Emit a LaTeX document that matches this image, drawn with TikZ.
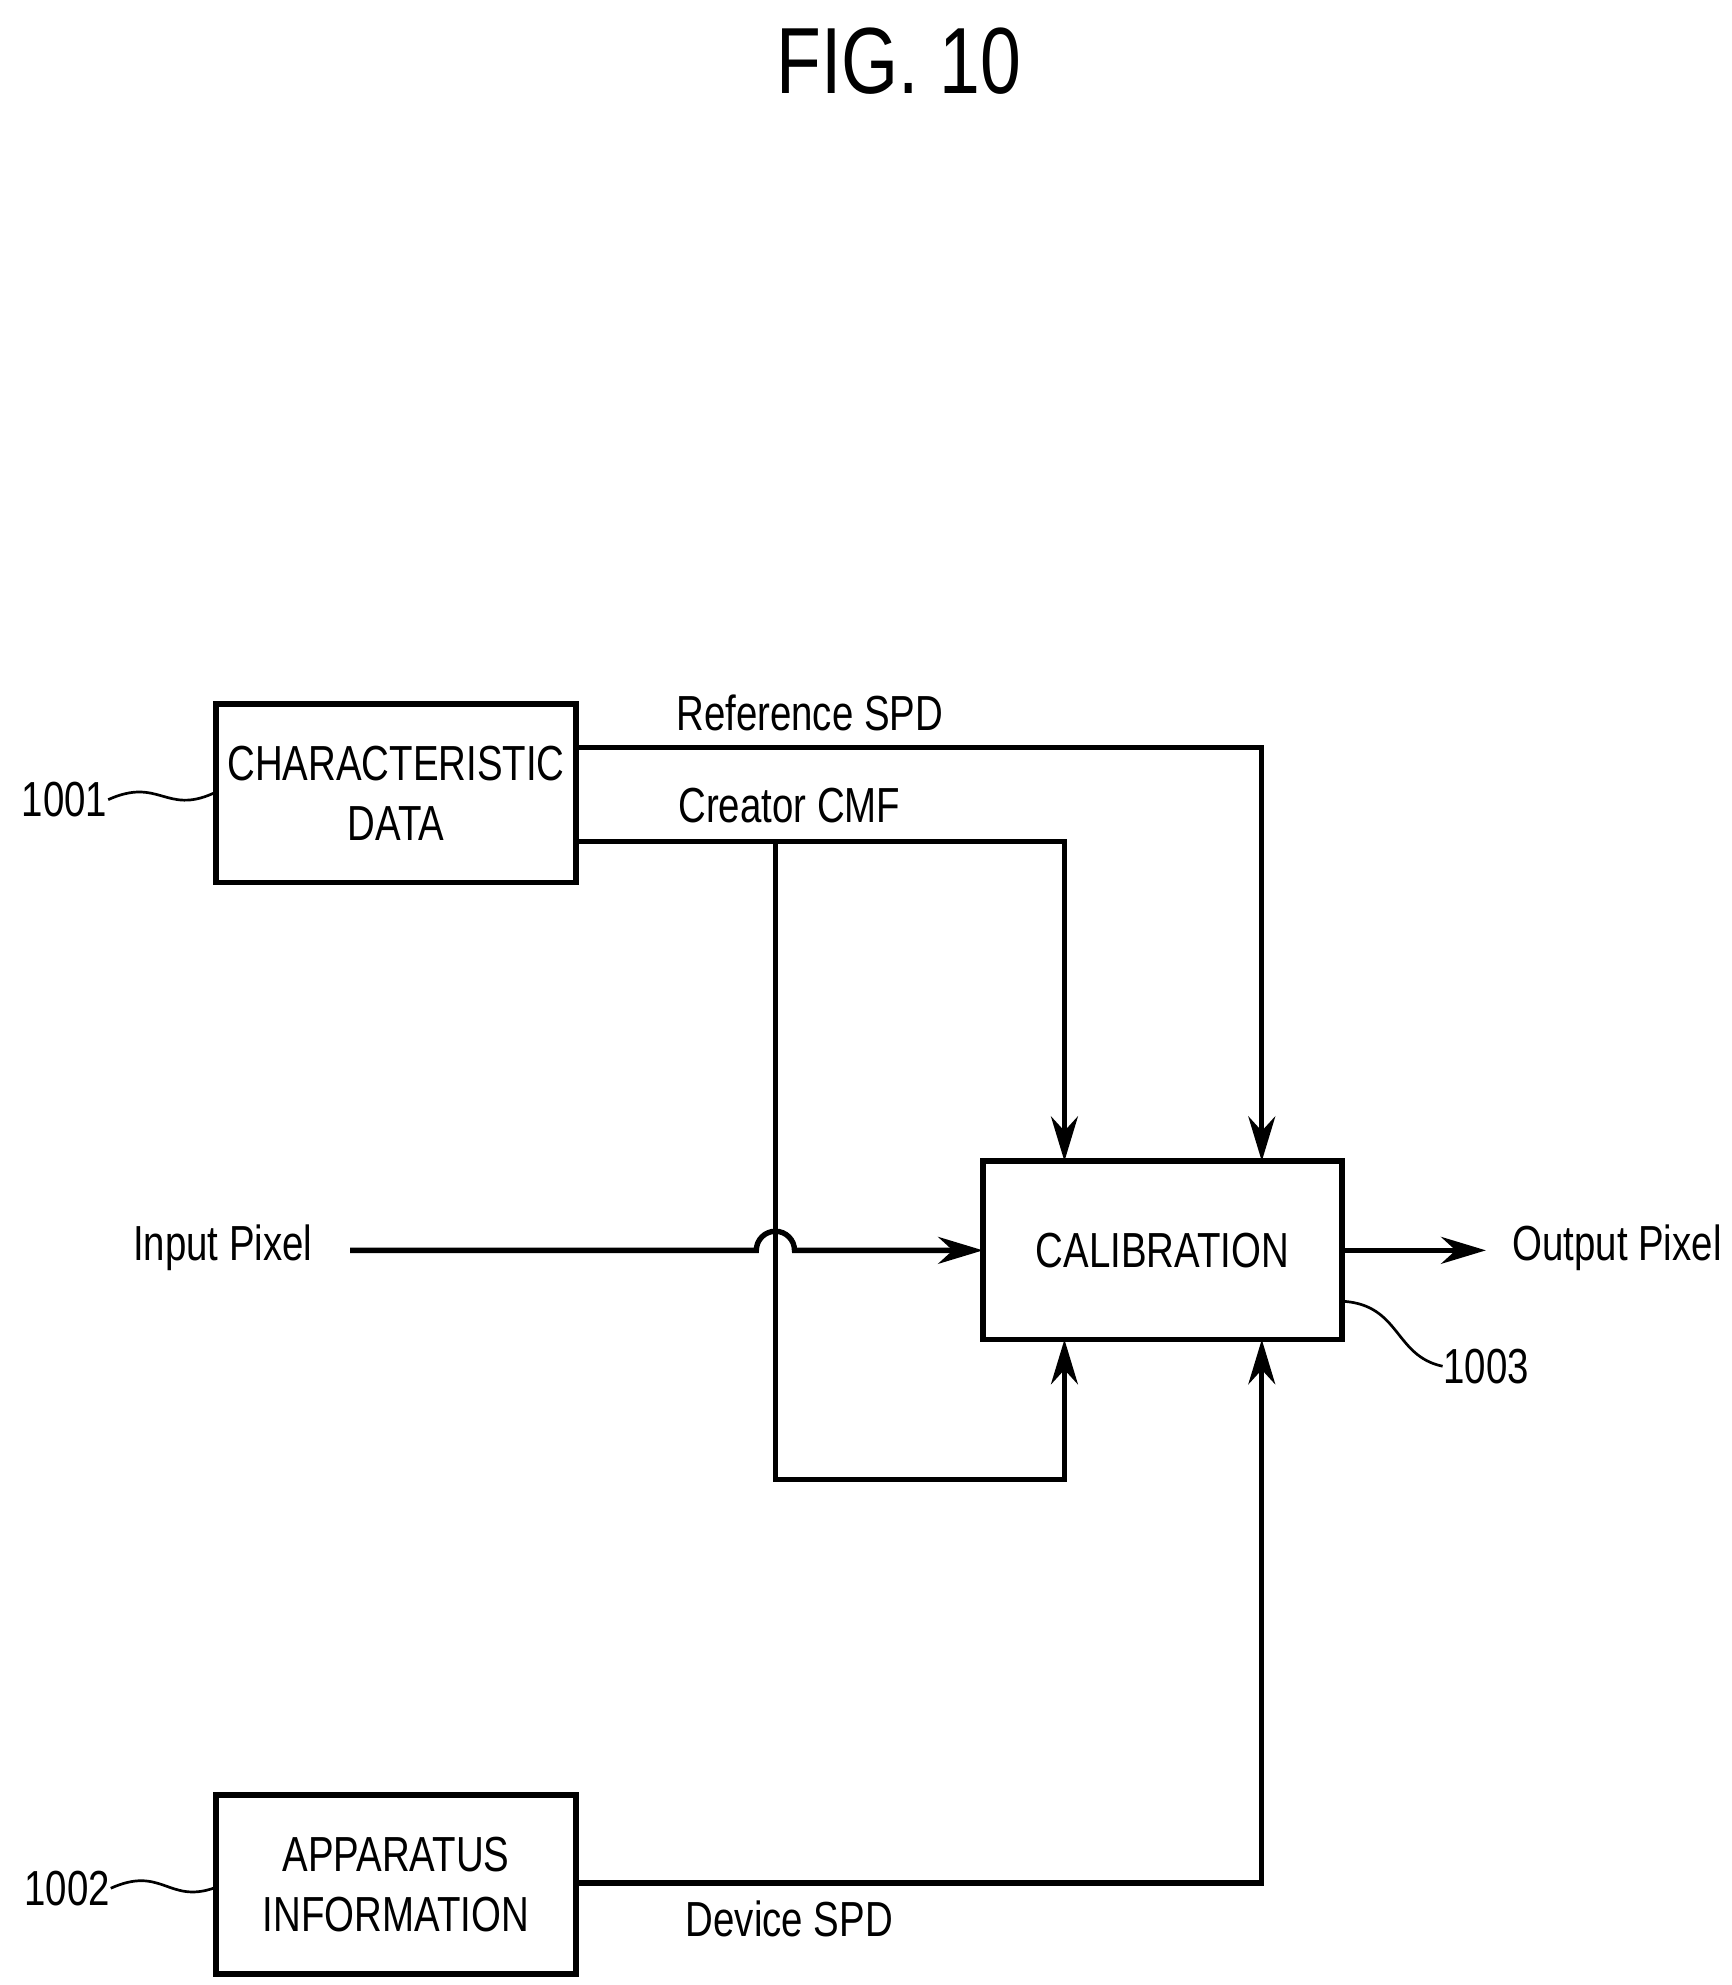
\documentclass[tikz,border=0pt]{standalone}
\usepackage{fontspec}
\setmainfont{Liberation Sans}[FakeStretch=0.78]
\usetikzlibrary{arrows.meta}
\begin{document}
\begin{tikzpicture}[x=0.01cm,y=-0.01cm,
  box/.style={draw,line width=1.3pt,minimum width=2.82cm,minimum height=1.4cm,align=center,font=\fontsize{11}{13.5}\selectfont,inner sep=0},
  ln/.style={line width=1.2pt},
  arr/.style={ln,-{Stealth[length=10pt,width=6pt]}},
  lab/.style={font=\fontsize{11}{13}\selectfont,inner sep=0},
  wav/.style={line width=0.6pt}]
\useasboundingbox (0,0) rectangle (1360,1559);
\node[font=\fontsize{21}{24}\selectfont] (title) at (706,48) {FIG. 10};
\node[box] (cd) at (311,623) {CHARACTERISTIC\\DATA};
\node[box] (ap) at (311,1480) {APPARATUS\\INFORMATION};
\node[box] (cal) at (913,982) {CALIBRATION};
\coordinate (r1) at (452,587); \coordinate (r2) at (991,587); \coordinate (r3) at (991,912);
\coordinate (c1) at (452,661); \coordinate (c2) at (836,661); \coordinate (c3) at (836,912);
\coordinate (b1) at (609,661); \coordinate (b2) at (609,1162); \coordinate (b3) at (836,1162); \coordinate (b4) at (836,1052);
\coordinate (d1) at (452,1479); \coordinate (d2) at (991,1479); \coordinate (d3) at (991,1052);
\coordinate (i0) at (275,982); \coordinate (i1) at (594,982); \coordinate (i2) at (772,982);
\coordinate (o1) at (1055,982); \coordinate (o2) at (1167,982);
\draw[arr] (r1) -- (r2) -- (r3);
\draw[arr] (c1) -- (c2) -- (c3);
\draw[arr] (b1) -- (b2) -- (b3) -- (b4);
\draw[arr] (d1) -- (d2) -- (d3);
\draw[arr] (i0) -- (i1) arc[start angle=180,end angle=360,radius=15] -- (i2);
\draw[arr] (o1) -- (o2);
\node[lab] (lr) at (636,560) {Reference SPD};
\node[lab] (lc) at (620,633) {Creator CMF};
\node[lab] (ld) at (620,1507) {Device SPD};
\node[lab] (lin) at (175,980) {Input Pixel};
\node[lab] (lout) at (1270,980) {Output Pixel};
\node[lab,anchor=east] (n1) at (85,628) {1001};
\node[lab,anchor=east] (n2) at (87,1483) {1002};
\node[lab,anchor=west] (n3) at (1133,1073) {1003};
\draw[wav] (n1.east) .. controls (125,610) and (130,640) .. (cd.west);
\draw[wav] (n2.east) .. controls (127,1465) and (132,1495) .. (ap.west |- 0,1483);
\draw[wav] (1055,1022) .. controls (1100,1025) and (1095,1065) .. (n3.west);
\end{tikzpicture}
\end{document}
